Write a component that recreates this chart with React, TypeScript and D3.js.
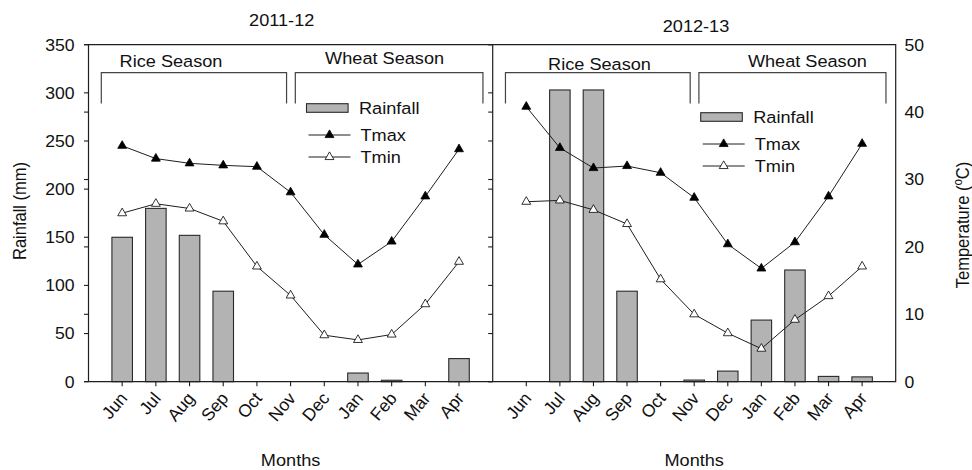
import React from 'react'
import * as d3 from 'd3'

const months = ['Jun', 'Jul', 'Aug', 'Sep', 'Oct', 'Nov', 'Dec', 'Jan', 'Feb', 'Mar', 'Apr']

const rain2011 = [150, 180, 152, 94, 0, 0, 0, 9, 1.5, 0, 24]
const tmax2011 = [35.0, 33.1, 32.4, 32.1, 31.9, 28.1, 21.8, 17.4, 20.8, 27.5, 34.5]
const tmin2011 = [25.0, 26.4, 25.7, 23.8, 17.1, 12.8, 6.9, 6.2, 7.0, 11.5, 17.8]

const rain2012 = [0, 303, 303, 94, 0, 1.7, 11, 64, 116, 5.5, 5]
const tmax2012 = [40.8, 34.7, 31.7, 32.0, 31.0, 27.3, 20.4, 16.8, 20.7, 27.5, 35.3]
const tmin2012 = [26.7, 26.9, 25.5, 23.4, 15.2, 10.0, 7.2, 4.9, 9.2, 12.7, 17.1]

const rainTicks = [0, 50, 100, 150, 200, 250, 300, 350]
const tempTicks = [0, 10, 20, 30, 40, 50]

const W = 972
const H = 470
const top = 44.7
const bottom = 381.7
const SX = 1.1 // the source figure is stretched horizontally
const FONT = '"Liberation Sans", Arial, sans-serif'
const INK = '#1e1e1e'

const yRain = d3.scaleLinear().domain([0, 350]).range([bottom, top])
const yTemp = d3.scaleLinear().domain([0, 50]).range([bottom, top])

interface PanelCfg {
  title: string
  titleX: number
  titleY: number
  x0: number
  x1: number
  rain: number[]
  tmax: number[]
  tmin: number[]
  riceLabel: number
  wheatLabel: number
  riceY: number
  wheatY: number
  legendX: number
  legendY: number
}

const panels: PanelCfg[] = [
  {
    title: '2011-12', titleX: 281.7, titleY: 26, x0: 88.5, x1: 492.7,
    rain: rain2011, tmax: tmax2011, tmin: tmin2011,
    riceLabel: 1.45, wheatLabel: 7.79, riceY: 66.5, wheatY: 64,
    legendX: 218, legendY: 108,
  },
  {
    title: '2012-13', titleX: 696, titleY: 31.7, x0: 492.7, x1: 895.7,
    rain: rain2012, tmax: tmax2012, tmin: tmin2012,
    riceLabel: 2.18, wheatLabel: 8.37, riceY: 69.5, wheatY: 66.5,
    legendX: 208, legendY: 117,
  },
]

function T({ x, y, size = 16, anchor = 'middle', rotate = 0, sx = SX, children }: any) {
  return (
    <text
      transform={`translate(${x},${y}) scale(${sx},1)${rotate ? ` rotate(${rotate})` : ''}`}
      textAnchor={anchor}
      fontSize={size}
      fontFamily={FONT}
      fill="#111"
    >
      {children}
    </text>
  )
}

const tri = d3.symbol(d3.symbolTriangle, 34)()

function Panel({ cfg }: { cfg: PanelCfg }) {
  const x = d3.scalePoint<string>().domain(months).range([cfg.x0, cfg.x1]).padding(1)
  const step = x.step()
  const bw = step * 0.61
  const xi = (i: number) => (x(months[0]) as number) + i * step

  const line = d3
    .line<number>()
    .x((_, i) => x(months[i]) as number)
    .y((d) => yTemp(d))

  const bTop = yRain(321)
  const bBot = yRain(289)
  const brackets = [
    [xi(-0.62), xi(4.88)],
    [xi(5.14), xi(10.71)],
  ]

  const lx = cfg.x0 + cfg.legendX
  const ly = cfg.legendY

  return (
    <g>
      {cfg.rain.map((v, i) =>
        v > 0 ? (
          <rect
            key={i}
            x={(x(months[i]) as number) - bw / 2}
            y={yRain(v)}
            width={bw}
            height={bottom - yRain(v)}
            fill="#b3b3b3"
            stroke="#2a2a2a"
            strokeWidth={1.1}
          />
        ) : null,
      )}

      <path d={line(cfg.tmax) || ''} fill="none" stroke={INK} strokeWidth={1} />
      <path d={line(cfg.tmin) || ''} fill="none" stroke={INK} strokeWidth={1} />
      {cfg.tmax.map((v, i) => (
        <path key={'a' + i} d={tri || ''} transform={`translate(${x(months[i])},${yTemp(v)})`} fill="#000" stroke="#000" strokeWidth={0.8} />
      ))}
      {cfg.tmin.map((v, i) => (
        <path key={'b' + i} d={tri || ''} transform={`translate(${x(months[i])},${yTemp(v)})`} fill="#fff" stroke="#000" strokeWidth={0.8} />
      ))}

      {brackets.map(([a, b], i) => (
        <path
          key={'br' + i}
          d={`M${a},${bBot}V${bTop}H${b}V${bBot}`}
          fill="none"
          stroke="#444"
          strokeWidth={1.2}
        />
      ))}
      <T x={xi(cfg.riceLabel)} y={cfg.riceY} size={16.5}>Rice Season</T>
      <T x={xi(cfg.wheatLabel)} y={cfg.wheatY} size={16.5}>Wheat Season</T>

      <rect x={lx} y={ly - 4.3} width={41.6} height={8.6} fill="#b3b3b3" stroke="#2a2a2a" strokeWidth={1.1} />
      <T x={lx + 52.5} y={ly + 5.8} size={16.5} anchor="start">Rainfall</T>
      <line x1={lx + 2} x2={lx + 44} y1={ly + 27} y2={ly + 27} stroke={INK} strokeWidth={1} />
      <path d={tri || ''} transform={`translate(${lx + 23},${ly + 27})`} fill="#000" stroke="#000" strokeWidth={0.8} />
      <T x={lx + 54} y={ly + 32.8} size={16.5} anchor="start">Tmax</T>
      <line x1={lx + 2} x2={lx + 44} y1={ly + 49} y2={ly + 49} stroke={INK} strokeWidth={1} />
      <path d={tri || ''} transform={`translate(${lx + 23},${ly + 49})`} fill="#fff" stroke="#000" strokeWidth={0.8} />
      <T x={lx + 54} y={ly + 54.8} size={16.5} anchor="start">Tmin</T>

      <T x={cfg.titleX} y={cfg.titleY} size={16.5}>{cfg.title}</T>

      {months.map((m) => (
        <g key={'t' + m}>
          <line x1={x(m)} x2={x(m)} y1={bottom} y2={bottom + 4.5} stroke={INK} strokeWidth={1.1} />
          <T x={(x(m) as number) + 6} y={bottom + 17} size={17.5} sx={1} anchor="end" rotate={-50}>{m}</T>
        </g>
      ))}
      <T x={(cfg.x0 + cfg.x1) / 2} y={466} size={16.5}>Months</T>
    </g>
  )
}

export default function App() {
  const left = panels[0].x0
  const mid = panels[0].x1
  const right = panels[1].x1
  const sideTicks = (ax: number) => (
    <g>
      {rainTicks.map((t) => (
        <line key={'r' + t} x1={ax - 4.5} x2={ax} y1={yRain(t)} y2={yRain(t)} stroke={INK} strokeWidth={1.1} />
      ))}
      {tempTicks.map((t) => (
        <line key={'c' + t} x1={ax - 4.5} x2={ax} y1={yTemp(t)} y2={yTemp(t)} stroke={INK} strokeWidth={1.1} />
      ))}
    </g>
  )

  return (
    <svg
      width={W}
      height={H}
      viewBox={`0 0 ${W} ${H}`}
      style={{ position: 'absolute', left: 0, top: 0, background: '#fff' }}
    >
      <rect width={W} height={H} fill="#fff" />
      {panels.map((p) => (
        <Panel key={p.title} cfg={p} />
      ))}

      <path
        d={`M${left},${bottom}V${top}H${right}V${bottom}H${left}M${mid},${top}V${bottom}`}
        fill="none"
        stroke={INK}
        strokeWidth={1.2}
      />
      {sideTicks(left)}
      {sideTicks(mid)}

      {rainTicks.map((t) => (
        <T key={'rl' + t} x={74.5} y={yRain(t) + 5.8} size={16} anchor="end">{t}</T>
      ))}
      {tempTicks.map((t) => (
        <T key={'tl' + t} x={904.5} y={yTemp(t) + 5.8} size={16} anchor="start">{t}</T>
      ))}

      <T x={26} y={211} size={16.5} rotate={-90}>Rainfall (mm)</T>
      <text
        transform={`translate(969,225) scale(${SX},1) rotate(-90)`}
        textAnchor="middle"
        fontSize={16.5}
        fontFamily={FONT}
        fill="#111"
      >
        Temperature (<tspan dy={-6} fontSize={11.5}>o</tspan>
        <tspan dy={6}>C)</tspan>
      </text>
    </svg>
  )
}
